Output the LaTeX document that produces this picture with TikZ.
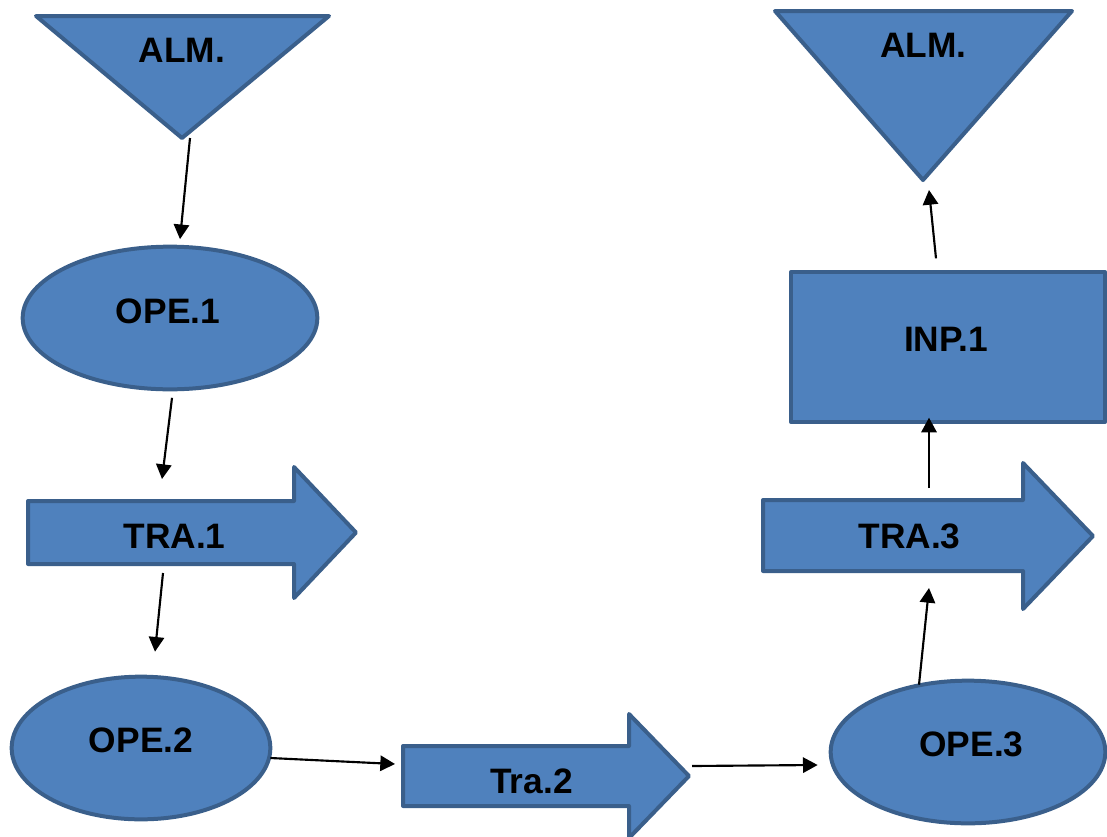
\documentclass[tikz,border=0pt]{standalone}
\usepackage{fontspec}
\setmainfont{Liberation Sans}
\usetikzlibrary{shapes.geometric,arrows.meta,calc}

\definecolor{boxblue}{HTML}{4F81BD}
\definecolor{boxedge}{HTML}{3A5F8B}

\tikzset{
  shp/.style={fill=boxblue, draw=boxedge, line width=3pt, line join=round},
  oval/.style={shp, ellipse, inner sep=0pt, outer sep=0pt},
  lbl/.style={font=\bfseries\fontsize{26.5}{30}\selectfont, text=black,
              inner sep=0pt, anchor=base},
  conn/.style={draw=black, line width=1.6pt,
               -{Triangle[length=11pt,width=11.5pt]}}
}

\begin{document}
\begin{tikzpicture}[x=0.75pt,y=-0.75pt]
\useasboundingbox (0,0) rectangle (1107,836);

% --- left column ---------------------------------------------------
% storage triangle
\draw[shp] (36,16) -- (329,16) -- (182,138) -- cycle;
\coordinate (alm1-apex) at (182,138);
\node[lbl] (alm1) at (182,62) {ALM.};

% operation 1
\node[oval, minimum width=221pt, minimum height=107pt] (ope1-shape) at (170,318) {};
\node[lbl] (ope1) at (168,323) {OPE.1};

% transport 1
\draw[shp] (28,501) -- (294,501) -- (294,467) -- (356,532.5) -- (294,598)
           -- (294,564) -- (28,564) -- cycle;
\coordinate (tra1-in)  at (162,479);
\coordinate (tra1-out) at (163,573);
\node[lbl] (tra1) at (174.5,548) {TRA.1};

% operation 2
\node[oval, minimum width=194pt, minimum height=107pt] (ope2-shape) at (141,748) {};
\node[lbl] (ope2) at (141,752) {OPE.2};

% --- bottom middle -------------------------------------------------
% transport 2
\draw[shp] (403,746) -- (629,746) -- (629,714) -- (689,776) -- (629,838)
           -- (629,806) -- (403,806) -- cycle;
\coordinate (tra2-in)  at (395,764);
\coordinate (tra2-out) at (692,766);
\node[lbl] (tra2) at (531.5,793) {Tra.2};

% --- right column --------------------------------------------------
% operation 3
\node[oval, minimum width=206pt, minimum height=107pt] (ope3-shape) at (968,752) {};
\node[lbl] (ope3) at (971.5,756) {OPE.3};

% transport 3
\draw[shp] (763,500) -- (1023,500) -- (1023,463) -- (1093,536) -- (1023,609)
           -- (1023,571) -- (763,571) -- cycle;
\coordinate (tra3-in)  at (929,588);
\coordinate (tra3-out) at (929,488);
\node[lbl] (tra3) at (909.5,548) {TRA.3};

% inspection
\node[shp, rectangle, inner sep=0pt, outer sep=0pt,
      minimum width=236pt, minimum height=112pt] (inp1-shape) at (948,347) {};
\node[lbl] (inp1) at (946,351) {INP.1};

% storage triangle
\draw[shp] (775,11) -- (1072,11) -- (923,180) -- cycle;
\coordinate (alm2-apex) at (923,180);
\node[lbl] (alm2) at (923.5,57) {ALM.};

% --- connectors ----------------------------------------------------
\draw[conn] ($(alm1-apex)+(8,0)$) -- ($(ope1-shape.north)+(10,-7.5)$);
\draw[conn] ($(ope1-shape.south)+(2,8.5)$) -- (tra1-in);
\draw[conn] (tra1-out) -- ($(ope2-shape.north)+(14,-25)$);
\draw[conn] ($(ope2-shape.east)+(0,10)$) -- (tra2-in);
\draw[conn] (tra2-out) -- ($(ope3-shape.west)+(-13,13)$);
\draw[conn] ($(ope3-shape.north)+(-49,4)$) -- (tra3-in);
\draw[conn] (tra3-out) -- ($(inp1-shape.south)+(-19,-4)$);
\draw[conn] ($(inp1-shape.north)+(-12,-14)$) -- ($(alm2-apex)+(6,10)$);
\end{tikzpicture}
\end{document}
